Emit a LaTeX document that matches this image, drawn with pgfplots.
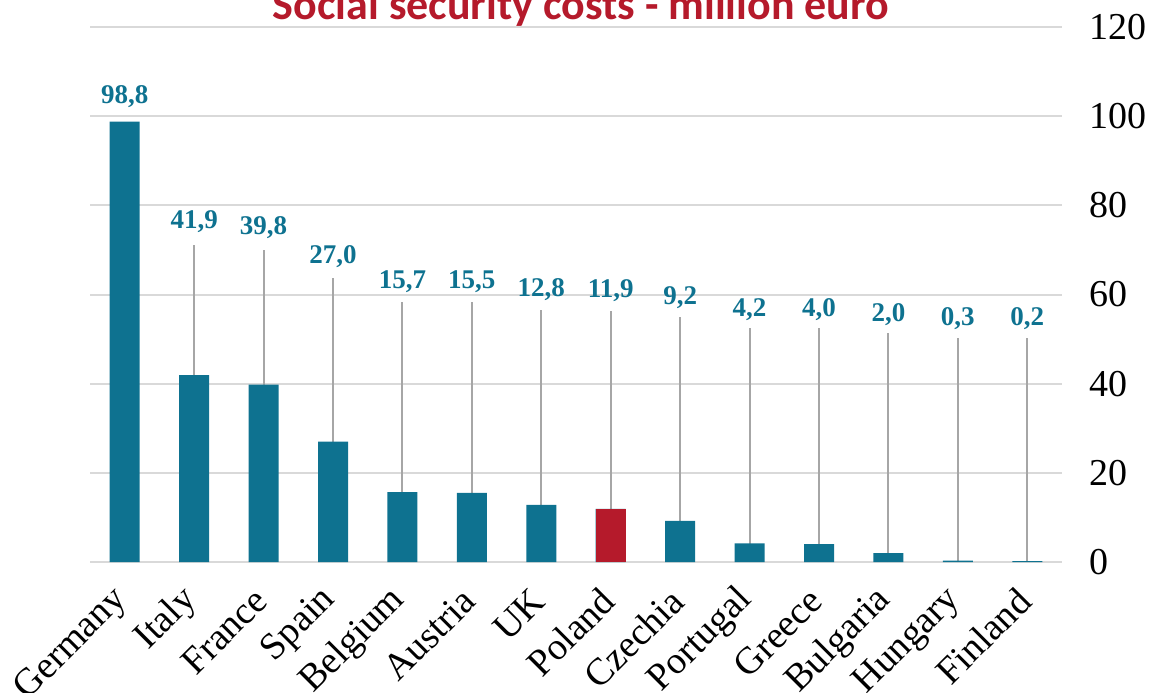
\documentclass[border=0pt]{standalone}
\usepackage{pgfplots}
\pgfplotsset{compat=1.18}
\usepackage{pgfplotstable}
\usepackage{fontspec}
\setmainfont{Liberation Serif}
\newfontfamily\titlefont{Carlito}
\definecolor{teal}{HTML}{0E7290}
\definecolor{polred}{HTML}{B51A2B}
\definecolor{leader}{HTML}{A6A6A6}
\definecolor{gridc}{HTML}{D9D9D9}
\pgfplotstableread{
x y lab ltop lab
0 98.8 104.3 0 98,8
1 41.9 76.3 71.1 41,9
2 39.8 75.0 70.0 39,8
3 27.0 68.6 63.7 27,0
4 15.7 62.8 58.3 15,7
5 15.5 62.8 58.3 15,5
6 12.8 61.2 56.5 12,8
7 11.9 60.9 56.3 11,9
8 9.2 59.4 54.9 9,2
9 4.2 56.5 52.5 4,2
10 4.0 56.5 52.5 4,0
11 2.0 55.4 51.4 2,0
12 0.3 54.7 50.3 0,3
13 0.2 54.7 50.3 0,2
}\data
\begin{document}
\begin{tikzpicture}
\clip (-45pt,-65pt) rectangle (530pt,281pt);
\begin{axis}[
  at={(0,0)}, anchor=south west,
  scale only axis, width=486pt, height=267.5pt,
  xmin=-0.5, xmax=13.5, ymin=0, ymax=120,
  axis line style={draw=none},
  ymajorgrids, grid style={gridc, line width=1pt},
  ytick={0,20,...,120},
  xtick={0,...,13},
  xticklabels={Germany,Italy,France,Spain,Belgium,Austria,UK,Poland,Czechia,Portugal,Greece,Bulgaria,Hungary,Finland},
  major tick length=0pt,
  yticklabel pos=right,
  /pgf/number format/assume math mode=true,
  yticklabel style={font=\fontsize{19}{19}\selectfont, anchor=west, xshift=10pt},
  xticklabel style={font=\fontsize{19}{19}\selectfont, xshift=1pt, yshift=-14pt, rotate=45, anchor=east},
  clip=false,
]
\addplot[ycomb, leader, line width=1pt, mark=none] table[x=x, y=ltop] {\data};
\addplot[ybar, bar width=15pt, bar shift=0pt, fill=teal, draw=none] table[x=x, y=y] {\data};
\addplot[ybar, bar width=15pt, bar shift=0pt, fill=polred, draw=none] coordinates {(7,11.9)};
\addplot[only marks, mark=none, nodes near coords, point meta=explicit symbolic,
  every node near coord/.append style={anchor=center, text=teal, font=\fontsize{13.5}{13.5}\selectfont\bfseries}]
  table[x=x, y index=2, meta index=4] {\data};
\end{axis}
\node[anchor=base, text=polred, font=\titlefont\bfseries\fontsize{22}{22}\selectfont] at (245.5pt,271pt) {Social security costs - million euro};
\end{tikzpicture}
\end{document}
